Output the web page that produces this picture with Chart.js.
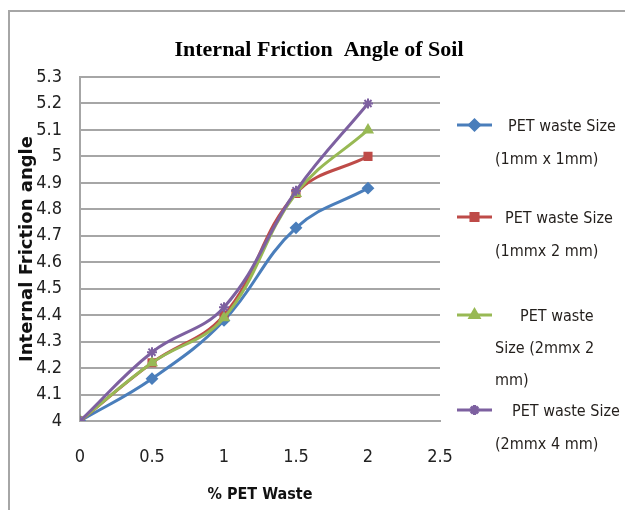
<!DOCTYPE html>
<html>
<head>
<meta charset="utf-8">
<script src="https://cdn.jsdelivr.net/npm/chart.js@4/dist/chart.umd.min.js"></script>
<style>
  body { margin: 0; background: #fff; }
  #wrap { position: relative; width: 625px; height: 510px; overflow: hidden; }
  #frame { position: absolute; left: 8px; top: 10px; width: 640px; height: 520px;
           border-left: 2px solid #a6a6a6; border-top: 2px solid #a6a6a6; }
  canvas { position: absolute; left: 0; top: 0; }
</style>
</head>
<body>
<div id="wrap">
  <div id="frame"></div>
  <canvas id="myChart" width="625" height="510"></canvas>
</div>
<script>
var pet_waste = [0, 0.5, 1, 1.5, 2]

var size_1x1 = [4, 4.16, 4.38, 4.73, 4.88]
var size_1x2 = [4, 4.22, 4.40, 4.86, 5.00]
var size_2x2 = [4, 4.22, 4.39, 4.86, 5.10]
var size_2x4 = [4, 4.26, 4.43, 4.87, 5.20]

var chart_title = 'Internal Friction  Angle of Soil'
var legend_lines = [
    ['PET waste Size', '(1mm x 1mm)'],
    ['PET waste Size', '(1mmx 2 mm)'],
    ['PET waste', 'Size (2mmx 2', 'mm)'],
    ['PET waste Size', '(2mmx 4 mm)']
]

function toPoints(values){
    var pts = []
    for (var i = 0; i < pet_waste.length; i++){
        pts.push({x: pet_waste[i], y: values[i]})
    }
    return pts
}

var narrow = "'DejaVu Sans Condensed', 'Liberation Sans Narrow', 'Arial Narrow', sans-serif"

// title + legend drawn by hand so they sit where the original has them
var sideLegend = {
    id: 'sideLegend',
    afterDraw: function(chart){
        var ctx = chart.ctx
        ctx.save()
        ctx.fillStyle = '#000'
        ctx.font = "bold 22px 'Liberation Serif', 'Times New Roman', serif"
        ctx.textAlign = 'center'
        ctx.textBaseline = 'middle'
        ctx.fillText(chart_title, 319, 50)

        var itemY = [125, 217, 315, 410]
        var indent = [13, 10, 25, 17]
        var lineGap = [33, 33, 32, 33]
        chart.data.datasets.forEach(function(ds, i){
            var y = itemY[i]
            ctx.strokeStyle = ds.borderColor
            ctx.lineWidth = 3
            ctx.beginPath()
            ctx.moveTo(457, y)
            ctx.lineTo(492, y)
            ctx.stroke()
            ctx.fillStyle = ds.borderColor
            if (Chart.helpers && Chart.helpers.drawPoint){
                Chart.helpers.drawPoint(ctx, {pointStyle: ds.pointStyle, radius: 5, rotation: 0, borderWidth: 2}, 474.5, y)
            }
            ctx.fillStyle = '#231f1c'
            ctx.font = '16px ' + narrow
            ctx.textBaseline = 'middle'
            ctx.textAlign = 'left'
            legend_lines[i].forEach(function(t, j){
                ctx.fillText(t, 495 + (j === 0 ? indent[i] : 0), y + 2 + j * lineGap[i])
            })
        })
        ctx.restore()
    }
}

var ctx = document.getElementById('myChart').getContext('2d');
var myChart = new Chart(ctx, {
    type: 'line',
    data: {
        datasets: [{
            label: 'PET waste Size (1mm x 1mm)',
            data: toPoints(size_1x1),
            borderColor: '#4a7ebb',
            backgroundColor: '#4a7ebb',
            pointStyle: 'rectRot',
            order: 3
        }, {
            label: 'PET waste Size (1mmx 2 mm)',
            data: toPoints(size_1x2),
            borderColor: '#be4b48',
            backgroundColor: '#be4b48',
            pointStyle: 'rect',
            order: 2
        }, {
            label: 'PET waste Size (2mmx 2 mm)',
            data: toPoints(size_2x2),
            borderColor: '#98b954',
            backgroundColor: '#98b954',
            pointStyle: 'triangle',
            order: 1
        }, {
            label: 'PET waste Size (2mmx 4 mm)',
            data: toPoints(size_2x4),
            borderColor: '#7d60a0',
            backgroundColor: '#7d60a0',
            pointStyle: 'star',
            order: 0
        }]
    },
    options: {
        responsive: false,
        animation: false,
        layout: {
            padding: {left: 8, right: 185, top: 77, bottom: 0}
        },
        elements: {
            line: {borderWidth: 3, tension: 0.4, fill: false},
            point: {radius: 5, borderWidth: 2, hoverRadius: 5}
        },
        plugins: {
            legend: {display: false},
            tooltip: {enabled: false},
            title: {display: false}
        },
        scales: {
            x: {
                type: 'linear',
                min: 0,
                max: 2.5,
                afterFit: function(s){ s.height = 89 },
                ticks: {
                    stepSize: 0.5,
                    autoSkip: false,
                    padding: 26,
                    color: '#222',
                    font: {family: narrow, size: 18},
                    callback: function(v){ return String(Number(v.toFixed(1))) }
                },
                grid: {display: false, drawTicks: false},
                border: {display: true, color: '#a6a6a6', width: 2},
                title: {
                    display: true,
                    text: '% PET Waste',
                    color: '#111',
                    font: {family: narrow, size: 16, weight: 'bold'},
                    padding: {top: 0, bottom: 6}
                }
            },
            y: {
                min: 4,
                max: 5.3,
                afterFit: function(s){ s.width = 72 },
                ticks: {
                    stepSize: 0.1,
                    autoSkip: false,
                    padding: 18,
                    color: '#222',
                    font: {family: narrow, size: 18},
                    callback: function(v){ return String(Number(v.toFixed(1))) }
                },
                grid: {color: '#a6a6a6', lineWidth: 2, drawTicks: false},
                border: {display: true, color: '#a6a6a6', width: 2},
                title: {
                    display: true,
                    text: 'Internal Friction angle',
                    color: '#111',
                    font: {family: "'DejaVu Sans', Verdana, sans-serif", size: 18, weight: 'bold'},
                    padding: {top: 9, bottom: 0}
                }
            }
        }
    },
    plugins: [sideLegend]
});
</script>
</body>
</html>
